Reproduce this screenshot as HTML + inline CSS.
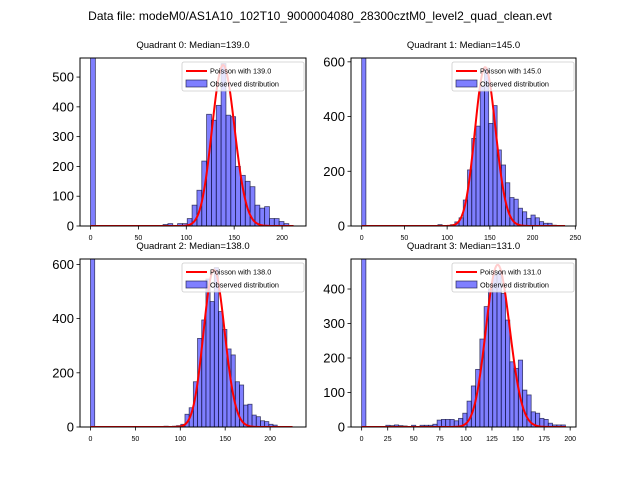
<!DOCTYPE html>
<html><head><meta charset="utf-8">
<style>
body{margin:0;background:#fff;}
svg{display:block;font-family:"Liberation Sans","DejaVu Sans",sans-serif;}
</style></head>
<body>
<svg id="fig" width="640" height="480" viewBox="0 0 640 480">
<rect width="640" height="480" fill="#fff"/>
<text x="320" y="20" text-anchor="middle" font-size="12">Data file: modeM0/AS1A10_102T10_9000004080_28300cztM0_level2_quad_clean.evt</text>
</svg>
<script>
// ---- data ----
const quadNames = ["Quadrant 0", "Quadrant 1", "Quadrant 2", "Quadrant 3"];
const medians = [139.0, 145.0, 138.0, 131.0];
const zeroBinCounts = [900, 900, 900, 900];
const binWidths = [5.05, 4.95, 4.67, 4.1];
const firstEdges = [75.75, 89.2, 81.85, 23.2];
const counts0 = [5,8,0,8,8,25,70,120,218,375,355,405,545,372,367,200,170,150,132,70,60,65,25,25,15,8];
const counts1 = [5,0,0,5,15,30,95,205,320,365,510,577,375,440,278,223,158,104,98,65,52,28,40,30,16,10,10,3];
const counts2 = [3,0,3,5,10,47,71,167,327,395,546,463,588,426,360,288,266,167,155,81,84,44,38,23,20,10,7];
const counts3 = [5,4,6,4,3,0,5,0,5,5,5,8,20,22,22,22,18,25,40,75,119,167,255,349,400,440,450,387,310,189,170,194,107,93,44,40,25,22,11,6,6,6];
const poissonPeaks = [540, 580, 580, 470];
const curveEnds = [212, 238, 225, 196];
const yTicks0 = [0,100,200,300,400,500];
const yTicks1 = [0,200,400,600];
const yTicks2 = [0,200,400,600];
const yTicks3 = [0,100,200,300,400];
const xTicks0 = [0,50,100,150,200];
const xTicks1 = [0,50,100,150,200,250];
const xTicks2 = [0,50,100,150,200];
const xTicks3 = [0,25,50,75,100,125,150,175,200];

const allCounts=[counts0,counts1,counts2,counts3];
const allY=[yTicks0,yTicks1,yTicks2,yTicks3];
const allX=[xTicks0,xTicks1,xTicks2,xTicks3];
const boxes=[{l:80,t:58,w:226,h:168,x0:-11,x1:225,y1:564},
             {l:351,t:58,w:225,h:168,x0:-12.5,x1:250.8,y1:614},
             {l:80,t:259,w:226,h:168,x0:-11.7,x1:240,y1:620},
             {l:351,t:259,w:225,h:168,x0:-10.2,x1:205.6,y1:487}];
const NS="http://www.w3.org/2000/svg";
const svg=document.getElementById('fig');
function mk(tag,attrs,parent){const e=document.createElementNS(NS,tag);for(const k in attrs)e.setAttribute(k,attrs[k]);(parent||svg).appendChild(e);return e;}
function lgam(x){
  if(x<7){let p=1;while(x<7){p*=x;x++;}return lgam(x)-Math.log(p);}
  return (x-0.5)*Math.log(x)-x+0.5*Math.log(2*Math.PI)+1/(12*x)-1/(360*x*x*x);
}
for(let q=0;q<4;q++){
  const b=boxes[q];
  const g=mk('g',{});
  
  
  const sx=v=>b.l+(v-b.x0)/(b.x1-b.x0)*b.w;
  const sy=v=>b.t+b.h-v/b.y1*b.h;
  const clipId='clip'+q;
  const cp=mk('clipPath',{id:clipId},g);mk('rect',{x:b.l,y:b.t,width:b.w,height:b.h},cp);
  const bars=mk('g',{'clip-path':'url(#'+clipId+')'},g);
  
  
  const w=binWidths[q];
  const drawBar=(x0,c)=>{
    if(c<=0)return;
    const r=mk('rect',{x:sx(x0),y:sy(c),width:sx(x0+w)-sx(x0),height:sy(0)-sy(c),fill:'rgba(0,0,255,0.5)',stroke:'rgba(20,20,60,0.75)','stroke-width':0.8},bars);
    
    
  };
  drawBar(0,zeroBinCounts[q]);
  allCounts[q].forEach((c,i)=>drawBar(firstEdges[q]+i*w,c));
  const lam=medians[q];
  const lpk=lam*Math.log(lam)-lam-lgam(lam+1);
  let d='';
  for(let x=0;x<=curveEnds[q];x+=1){
    const lp=x*Math.log(lam)-lam-lgam(x+1);
    const v=poissonPeaks[q]*Math.exp(lp-lpk);
    d+=(x?'L':'M')+sx(x).toFixed(2)+' '+sy(v).toFixed(2);
  }
  const pth=mk('path',{d:d,fill:'none',stroke:'#ff0000','stroke-width':2},bars);
  
  
  const fr=mk('rect',{x:b.l,y:b.t,width:b.w,height:b.h,fill:'none',stroke:'#000','stroke-width':1},g);
  
  
  allY[q].forEach(v=>{
    mk('line',{x1:b.l-3.5,x2:b.l,y1:sy(v),y2:sy(v),stroke:'#000','stroke-width':0.8},g);
    const t=mk('text',{x:b.l-6,y:sy(v)+4.5,'text-anchor':'end','font-size':13},g);
    t.textContent=v;
    
    
  });
  allX[q].forEach(v=>{
    mk('line',{x1:sx(v),x2:sx(v),y1:b.t+b.h,y2:b.t+b.h+3.5,stroke:'#000','stroke-width':0.8},g);
    const t=mk('text',{x:sx(v),y:b.t+b.h+14,'text-anchor':'middle','font-size':7},g);
    t.textContent=v;
    
    
  });
  const tt=mk('text',{x:b.l+b.w/2,y:b.t-10,'text-anchor':'middle','font-size':9.5},g);
  tt.textContent=quadNames[q]+': Median='+medians[q].toFixed(1);
  
  
  const lg=mk('g',{},g);
  
  
  const lx=b.l+b.w-124, ly=b.t+4;
  mk('rect',{x:lx,y:ly,width:122,height:29,fill:'#fff','fill-opacity':0.8,stroke:'#ccc','stroke-width':0.8,rx:2},lg);
  mk('line',{x1:lx+4,x2:lx+25,y1:ly+9,y2:ly+9,stroke:'#f00','stroke-width':2},lg);
  const l1=mk('text',{x:lx+28,y:ly+11.5,'font-size':7.3},lg);
  l1.textContent='Poisson with '+medians[q].toFixed(1);
  
  
  mk('rect',{x:lx+4,y:ly+18,width:21,height:7,fill:'rgba(0,0,255,0.5)',stroke:'rgba(20,20,60,0.75)','stroke-width':0.8},lg);
  const l2=mk('text',{x:lx+28,y:ly+24.5,'font-size':7.3},lg);
  l2.textContent='Observed distribution';
  
  
}
</script>
</body></html>
